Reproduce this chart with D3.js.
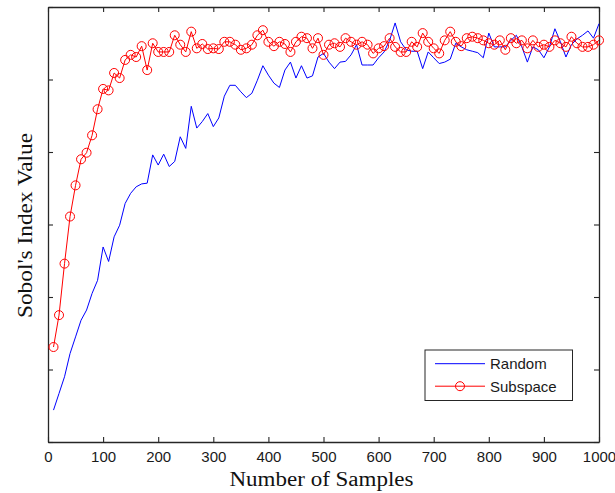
<!DOCTYPE html>
<html>
<head>
<meta charset="utf-8">
<script src="https://cdn.jsdelivr.net/npm/d3@7"></script>
<style>
  body { margin: 0; background: #fff; }
  svg { display: block; }
</style>
</head>
<body>
<div id="chart"></div>
<script>
// Sample counts (shared by both series)
const samples = d3.range(10, 1001, 10);

// Sobol's index value, random sampling
const randomValues = [
    0.044, 0.067, 0.090, 0.122, 0.145, 0.168, 0.182, 0.205, 0.223, 0.269,
    0.249, 0.283, 0.299, 0.329, 0.343, 0.352, 0.356, 0.357, 0.396, 0.382,
    0.397, 0.380, 0.387, 0.421, 0.405, 0.463, 0.433, 0.442, 0.453, 0.435,
    0.447, 0.477, 0.492, 0.492, 0.483, 0.475, 0.481, 0.499, 0.519, 0.506,
    0.495, 0.489, 0.513, 0.524, 0.502, 0.519, 0.502, 0.505, 0.531, 0.536,
    0.524, 0.515, 0.524, 0.525, 0.534, 0.548, 0.520, 0.520, 0.520, 0.530,
    0.538, 0.554, 0.578, 0.552, 0.541, 0.539, 0.539, 0.515, 0.538, 0.530,
    0.522, 0.524, 0.528, 0.550, 0.545, 0.541, 0.539, 0.537, 0.530, 0.564,
    0.545, 0.545, 0.545, 0.554, 0.561, 0.545, 0.524, 0.545, 0.541, 0.530,
    0.545, 0.570, 0.552, 0.531, 0.548, 0.556, 0.561, 0.567, 0.557, 0.577
];

// Sobol's index value, subspace sampling
const subspaceValues = [
    0.131, 0.175, 0.246, 0.311, 0.354, 0.390, 0.399, 0.423, 0.459, 0.487,
    0.485, 0.509, 0.502, 0.527, 0.534, 0.531, 0.546, 0.513, 0.550, 0.538,
    0.538, 0.538, 0.561, 0.548, 0.538, 0.566, 0.543, 0.549, 0.542, 0.543,
    0.542, 0.552, 0.552, 0.548, 0.541, 0.543, 0.548, 0.561, 0.568, 0.552,
    0.546, 0.552, 0.549, 0.538, 0.552, 0.559, 0.557, 0.543, 0.557, 0.534,
    0.548, 0.550, 0.545, 0.557, 0.552, 0.548, 0.552, 0.548, 0.536, 0.543,
    0.546, 0.557, 0.545, 0.538, 0.538, 0.552, 0.545, 0.564, 0.552, 0.543,
    0.536, 0.554, 0.566, 0.552, 0.546, 0.557, 0.559, 0.557, 0.554, 0.550,
    0.548, 0.554, 0.541, 0.557, 0.550, 0.554, 0.543, 0.554, 0.545, 0.548,
    0.545, 0.554, 0.550, 0.545, 0.559, 0.550, 0.545, 0.545, 0.548, 0.554
];

const xTicks = [0, 100, 200, 300, 400, 500, 600, 700, 800, 900, 1000];
const yTicks = [0, 0.1, 0.2, 0.3, 0.4, 0.5, 0.6];
const seriesNames = ['Random', 'Subspace'];

const W = 615, H = 493;
const margin = { top: 7, right: 16, bottom: 51, left: 48 };
const width = W - margin.left - margin.right;
const height = H - margin.top - margin.bottom;

const svg = d3.select('#chart')
    .append('svg')
    .attr('width', W)
    .attr('height', H);

const g = svg.append('g')
    .attr('transform', `translate(${margin.left},${margin.top})`);

const x = d3.scaleLinear().domain([0, 1000]).range([0, width]);
const y = d3.scaleLinear().domain([0, 0.6]).range([height, 0]);

const axisColor = '#262626';

// Axes, ticks pointing inward on all four sides
const styleAxis = sel => {
    sel.select('.domain').attr('stroke', axisColor).attr('stroke-width', 1.3);
    sel.selectAll('.tick line').attr('stroke', axisColor).attr('stroke-width', 1.1);
};

g.append('g')
    .attr('transform', `translate(0,${height})`)
    .call(d3.axisBottom(x).tickValues(xTicks).tickFormat(d3.format('d'))
        .tickSize(-5).tickSizeOuter(0).tickPadding(9))
    .call(styleAxis)
    .selectAll('text')
    .attr('fill', '#1a1a1a')
    .style('font-family', 'Liberation Sans, Arial, sans-serif')
    .style('font-size', '15px');

g.append('g')
    .call(d3.axisTop(x).tickValues(xTicks).tickSize(-5).tickSizeOuter(0).tickFormat(''))
    .call(styleAxis);

g.append('g')
    .call(d3.axisLeft(y).tickValues(yTicks).tickSize(-5).tickSizeOuter(0).tickFormat(''))
    .call(styleAxis);

g.append('g')
    .attr('transform', `translate(${width},0)`)
    .call(d3.axisRight(y).tickValues(yTicks).tickSize(-5).tickSizeOuter(0).tickFormat(''))
    .call(styleAxis);

// Lines
const line = d3.line()
    .x((d, i) => x(samples[i]))
    .y(d => y(d));

g.append('path')
    .datum(randomValues)
    .attr('fill', 'none')
    .attr('stroke', '#0000ff')
    .attr('stroke-width', 1)
    .attr('d', line);

g.append('path')
    .datum(subspaceValues)
    .attr('fill', 'none')
    .attr('stroke', '#ff0000')
    .attr('stroke-width', 1)
    .attr('d', line);

g.selectAll('.marker')
    .data(subspaceValues)
    .enter()
    .append('circle')
    .attr('class', 'marker')
    .attr('cx', (d, i) => x(samples[i]))
    .attr('cy', d => y(d))
    .attr('r', 4.5)
    .attr('fill', 'none')
    .attr('stroke', '#ff0000')
    .attr('stroke-width', 1);

// Axis titles
svg.append('text')
    .attr('x', 321.5)
    .attr('y', 486)
    .attr('text-anchor', 'middle')
    .attr('textLength', 184)
    .attr('lengthAdjust', 'spacingAndGlyphs')
    .style('font-family', 'Liberation Serif, Times New Roman, serif')
    .style('font-size', '20px')
    .attr('fill', '#111')
    .text('Number of Samples');

svg.append('text')
    .attr('transform', 'translate(31.5,225.5) rotate(-90)')
    .attr('text-anchor', 'middle')
    .attr('textLength', 185)
    .attr('lengthAdjust', 'spacingAndGlyphs')
    .style('font-family', 'Liberation Serif, Times New Roman, serif')
    .style('font-size', '20px')
    .attr('fill', '#111')
    .text("Sobol's Index Value");

// Legend
const legend = svg.append('g');

legend.append('rect')
    .attr('x', 425)
    .attr('y', 350)
    .attr('width', 147.5)
    .attr('height', 50.5)
    .attr('fill', '#fff')
    .attr('stroke', axisColor)
    .attr('stroke-width', 1);

const legendColors = ['#0000ff', '#ff0000'];
seriesNames.forEach((name, i) => {
    const ly = 363.7 + i * 22.5;
    legend.append('line')
        .attr('x1', 435)
        .attr('x2', 485)
        .attr('y1', ly)
        .attr('y2', ly)
        .attr('stroke', legendColors[i])
        .attr('stroke-width', 1);
    if (i === 1) {
        legend.append('circle')
            .attr('cx', 460)
            .attr('cy', ly)
            .attr('r', 4.5)
            .attr('fill', 'none')
            .attr('stroke', legendColors[i]);
    }
    legend.append('text')
        .attr('x', 490)
        .attr('y', ly)
        .attr('dy', '0.36em')
        .style('font-family', 'Liberation Sans, Arial, sans-serif')
        .style('font-size', '15px')
        .attr('fill', '#1a1a1a')
        .text(name);
});
</script>
</body>
</html>
